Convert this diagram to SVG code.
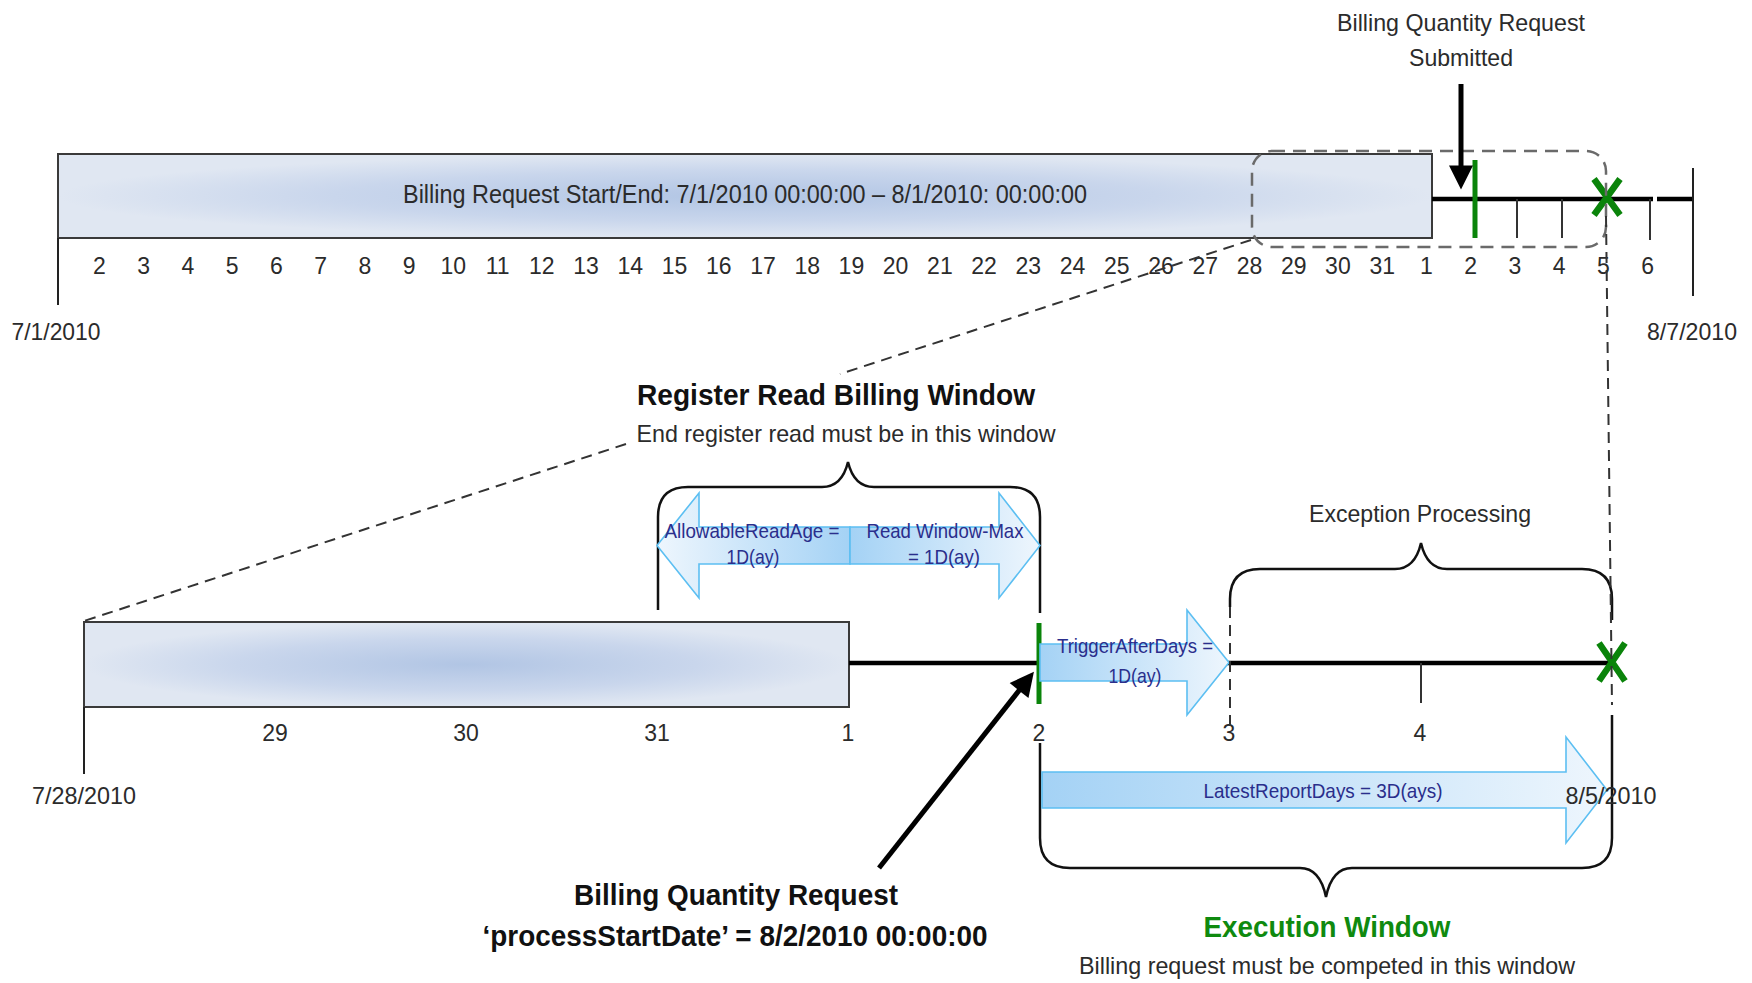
<svg xmlns="http://www.w3.org/2000/svg" width="1752" height="983" viewBox="0 0 1752 983">
  <style>
    .t { font-family: 'Liberation Sans Narrow', 'Liberation Sans', Arial, sans-serif; fill: #2b2b2b; }
    .day { font-size: 23px; text-anchor: middle; }
    .lbl { font-size: 24px; text-anchor: middle; }
    .bold { font-size: 29px; font-weight: bold; fill: #111; text-anchor: middle; }
    .blue { font-size: 21px; fill: #2a2e8c; text-anchor: middle; }
    .bar { stroke: #3a3a3a; stroke-width: 2; }
    .axis { stroke: #000; stroke-width: 4.5; fill: none; }
    .tick { stroke: #333; stroke-width: 2; fill: none; }
    .thin { stroke: #222; stroke-width: 2; fill: none; }
    .brace { stroke: #111; stroke-width: 2.5; fill: none; }
    .dash { stroke: #333; stroke-width: 2; stroke-dasharray: 11 7; fill: none; }
    .dashgrey { stroke: #6a6a6a; stroke-width: 2.5; stroke-dasharray: 13 8; fill: none; }
    .green { stroke: #0a840a; stroke-width: 5; fill: none; }
    .xmark { stroke: #0a840a; stroke-width: 6.5; fill: none; }
    .barrow { stroke: #5cbff2; stroke-width: 1.6; }
    .ptr { stroke: #000; stroke-width: 5; fill: none; }
  </style>
  <defs>
    <radialGradient id="barFill" cx="0.5" cy="0.5" r="0.5">
      <stop offset="0" stop-color="#b1c5e4"/>
      <stop offset="0.6" stop-color="#c9d6ec"/>
      <stop offset="1" stop-color="#e0e7f2"/>
    </radialGradient>
    <linearGradient id="blueR" x1="0" y1="0" x2="1" y2="0">
      <stop offset="0" stop-color="#a4d2f5"/>
      <stop offset="1" stop-color="#eef6fd"/>
    </linearGradient>
    <linearGradient id="blueL" x1="1" y1="0" x2="0" y2="0">
      <stop offset="0" stop-color="#a4d2f5"/>
      <stop offset="1" stop-color="#eef6fd"/>
    </linearGradient>
    <marker id="head" viewBox="0 0 10 10" refX="4" refY="5" markerWidth="34" markerHeight="24" markerUnits="userSpaceOnUse" orient="auto">
      <path d="M0,0 L10,5 L0,10 z" fill="#000"/>
    </marker>
  </defs>

  <!-- ===== Month overview timeline ===== -->
  <g id="month-bar">
    <rect class="bar" x="58" y="154" width="1374" height="84" fill="url(#barFill)"/>
    <text class="t" x="745" y="203" font-size="25" text-anchor="middle" textLength="684" lengthAdjust="spacingAndGlyphs">Billing Request Start/End: 7/1/2010 00:00:00 – 8/1/2010: 00:00:00</text>
  </g>

  <g id="month-axis">
    <line class="axis" x1="1432" y1="199" x2="1653" y2="199"/>
    <line class="axis" x1="1657" y1="199" x2="1693" y2="199"/>
    <line class="thin" x1="58" y1="238" x2="58" y2="305"/>
    <line class="thin" x1="1693" y1="168" x2="1693" y2="296"/>
    <line class="tick" x1="1517" y1="199" x2="1517" y2="238"/>
    <line class="tick" x1="1562" y1="199" x2="1562" y2="238"/>
    <line class="tick" x1="1650" y1="199" x2="1650" y2="240"/>
    <line class="green" x1="1475" y1="160" x2="1475" y2="238"/>
    <path class="xmark" d="M1594,179 L1620,215 M1620,179 L1594,215"/>
  </g>

  <g id="month-days" class="t day">
    <text x="99.5" y="274">2</text>
    <text x="143.7" y="274">3</text>
    <text x="188" y="274">4</text>
    <text x="232.2" y="274">5</text>
    <text x="276.4" y="274">6</text>
    <text x="320.7" y="274">7</text>
    <text x="364.9" y="274">8</text>
    <text x="409.1" y="274">9</text>
    <text x="453.3" y="274">10</text>
    <text x="497.6" y="274">11</text>
    <text x="541.8" y="274">12</text>
    <text x="586" y="274">13</text>
    <text x="630.3" y="274">14</text>
    <text x="674.5" y="274">15</text>
    <text x="718.7" y="274">16</text>
    <text x="763" y="274">17</text>
    <text x="807.2" y="274">18</text>
    <text x="851.4" y="274">19</text>
    <text x="895.6" y="274">20</text>
    <text x="939.9" y="274">21</text>
    <text x="984.1" y="274">22</text>
    <text x="1028.3" y="274">23</text>
    <text x="1072.6" y="274">24</text>
    <text x="1116.8" y="274">25</text>
    <text x="1161" y="274">26</text>
    <text x="1205.3" y="274">27</text>
    <text x="1249.5" y="274">28</text>
    <text x="1293.7" y="274">29</text>
    <text x="1337.9" y="274">30</text>
    <text x="1382.2" y="274">31</text>
    <text x="1426.4" y="274">1</text>
    <text x="1470.6" y="274">2</text>
    <text x="1514.9" y="274">3</text>
    <text x="1559.1" y="274">4</text>
    <text x="1603.3" y="274">5</text>
    <text x="1647.6" y="274">6</text>
  </g>

  <g id="month-dates" class="t lbl">
    <text x="56" y="340" textLength="89" lengthAdjust="spacingAndGlyphs">7/1/2010</text>
    <text x="1692" y="340" textLength="90" lengthAdjust="spacingAndGlyphs">8/7/2010</text>
  </g>

  <g id="request-submitted">
    <text class="t lbl" x="1461" y="31" textLength="248" lengthAdjust="spacingAndGlyphs">Billing Quantity Request</text>
    <text class="t lbl" x="1461" y="66" textLength="104" lengthAdjust="spacingAndGlyphs">Submitted</text>
  </g>

  <!-- zoom frame around the end of the billing period -->
  <g id="zoom-frame">
    <rect class="dashgrey" x="1252" y="151" width="354" height="96" rx="20" ry="20"/>
  </g>

  <!-- ===== Detailed timeline ===== -->
  <g id="detail-bar">
    <rect class="bar" x="84" y="622" width="765" height="85" fill="url(#barFill)"/>
  </g>

  <g id="detail-axis">
    <line class="axis" x1="849" y1="663" x2="1612" y2="663"/>
    <line class="thin" x1="84" y1="707" x2="84" y2="774"/>
    <line class="tick" x1="1421" y1="663" x2="1421" y2="703"/>
    <line class="green" x1="1039" y1="623" x2="1039" y2="704"/>
    <path class="xmark" d="M1599,643 L1625,681 M1625,643 L1599,681"/>
  </g>

  <g id="detail-days" class="t day">
    <text x="275" y="741">29</text>
    <text x="466" y="741">30</text>
    <text x="657" y="741">31</text>
    <text x="848" y="741">1</text>
    <text x="1039" y="741">2</text>
    <text x="1229" y="741">3</text>
    <text x="1420" y="741">4</text>
  </g>

  <!-- ===== Register read billing window ===== -->
  <g id="register-read-window">
    <path class="brace" d="M658,610 L658,517 Q658,487 688,487 L822,487 Q842,487 848,462 Q854,487 874,487 L1010,487 Q1040,487 1040,517 L1040,613"/>
    <polygon class="barrow" fill="url(#blueL)" points="850,527 699,527 699,493 657,545.5 699,598 699,564 850,564"/>
    <polygon class="barrow" fill="url(#blueR)" points="850,527 999,527 999,493 1040,545.5 999,598 999,564 850,564"/>
    <text class="t blue" x="752" y="538" textLength="175" lengthAdjust="spacingAndGlyphs">AllowableReadAge =</text>
    <text class="t blue" x="753" y="564" textLength="53" lengthAdjust="spacingAndGlyphs">1D(ay)</text>
    <text class="t blue" x="945" y="538" textLength="157" lengthAdjust="spacingAndGlyphs">Read Window-Max</text>
    <text class="t blue" x="944" y="564" textLength="72" lengthAdjust="spacingAndGlyphs">= 1D(ay)</text>
    <text class="t bold" x="836" y="405" textLength="398" lengthAdjust="spacingAndGlyphs">Register Read Billing Window</text>
    <text class="t lbl" x="846" y="442" textLength="419" lengthAdjust="spacingAndGlyphs">End register read must be in this window</text>
  </g>

  <!-- ===== Trigger / exception processing ===== -->
  <g id="trigger-after-days">
    <polygon class="barrow" fill="url(#blueR)" points="1040,644 1187,644 1187,610 1229,662.5 1187,715 1187,681 1040,681"/>
    <text class="t blue" x="1135" y="653" textLength="156" lengthAdjust="spacingAndGlyphs">TriggerAfterDays =</text>
    <text class="t blue" x="1135" y="683" textLength="53" lengthAdjust="spacingAndGlyphs">1D(ay)</text>
  </g>

  <g id="exception-processing">
    <path class="brace" d="M1230,607 L1230,599 Q1230,569 1260,569 L1395,569 Q1415,569 1421,543 Q1427,569 1447,569 L1582,569 Q1612,569 1612,599 L1612,620"/>
    <line class="dash" x1="1230" y1="607" x2="1230" y2="727"/>
    <text class="t lbl" x="1420" y="522" textLength="222" lengthAdjust="spacingAndGlyphs">Exception Processing</text>
  </g>

  <!-- ===== Execution window ===== -->
  <g id="execution-window">
    <path class="brace" d="M1040,743 L1040,838 Q1040,868 1070,868 L1300,868 Q1320,868 1326,897 Q1332,868 1352,868 L1582,868 Q1612,868 1612,838 L1612,715"/>
    <polygon class="barrow" fill="url(#blueR)" points="1042,772 1566,772 1566,737 1607,790 1566,843 1566,808 1042,808"/>
    <text class="t blue" x="1323" y="798" textLength="239" lengthAdjust="spacingAndGlyphs">LatestReportDays = 3D(ays)</text>
    <text class="t bold" x="1327" y="937" style="fill:#0f8a0f" textLength="247" lengthAdjust="spacingAndGlyphs">Execution Window</text>
    <text class="t lbl" x="1327" y="974" textLength="496" lengthAdjust="spacingAndGlyphs">Billing request must be competed in this window</text>
  </g>

  <g id="detail-dates" class="t lbl">
    <text x="84" y="804" textLength="104" lengthAdjust="spacingAndGlyphs">7/28/2010</text>
    <text x="1611" y="804" textLength="91" lengthAdjust="spacingAndGlyphs">8/5/2010</text>
  </g>

  <g id="process-start">
    <text class="t bold" x="736" y="905" textLength="324" lengthAdjust="spacingAndGlyphs">Billing Quantity Request</text>
    <text class="t bold" x="735" y="946" textLength="505" lengthAdjust="spacingAndGlyphs">‘processStartDate’ = 8/2/2010 00:00:00</text>
  </g>

  <!-- ===== Connectors ===== -->
  <g id="connectors">
    <path class="dash" d="M1251,240 L840,374"/>
    <path class="dash" d="M626,444 L84,621"/>
    <path class="dash" d="M1606,216 L1612,705"/>
    <line class="ptr" x1="1461" y1="84" x2="1461" y2="175" marker-end="url(#head)"/>
    <line class="ptr" x1="879" y1="868" x2="1025" y2="683" marker-end="url(#head)"/>
  </g>
</svg>
